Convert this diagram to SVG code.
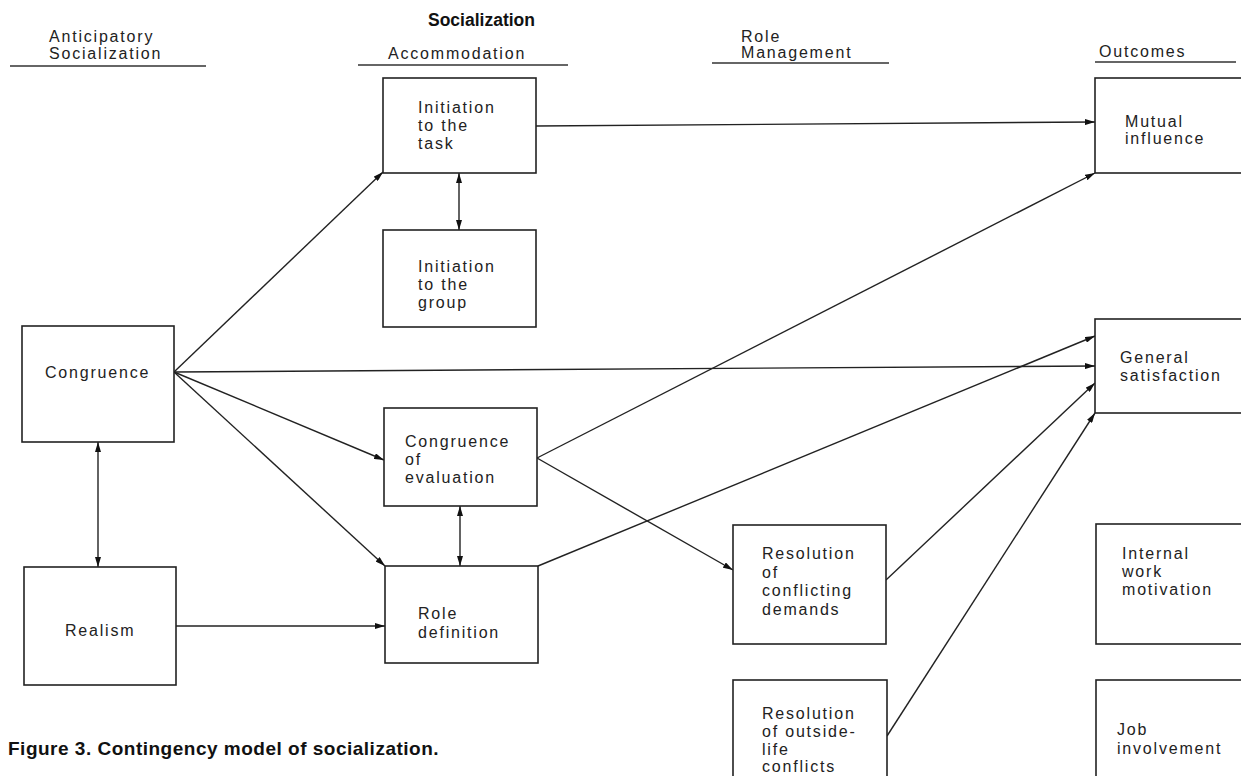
<svg xmlns="http://www.w3.org/2000/svg" width="1241" height="776" viewBox="0 0 1241 776">
<defs>
<marker id="ah" viewBox="0 0 10 6" refX="10" refY="3" markerWidth="10" markerHeight="6" markerUnits="userSpaceOnUse" orient="auto-start-reverse">
<path d="M0,0 L10,3 L0,6 z" fill="#111"/>
</marker>
<style>
.box{fill:#fff;stroke:#222;stroke-width:1.6}
.t{font-family:"Liberation Sans",Arial,sans-serif;font-size:16px;fill:#222;letter-spacing:1.8px}
.h{font-family:"Liberation Sans",Arial,sans-serif;font-size:16px;fill:#222;letter-spacing:1.8px}
.ul{stroke:#333;stroke-width:1.6}
.c{fill:none;stroke:#222;stroke-width:1.4}
.a{marker-end:url(#ah)}
.b{marker-start:url(#ah);marker-end:url(#ah)}
</style>
</defs>
<rect width="1241" height="776" fill="#fff"/>
<g id="headers">
<text x="428" y="26" font-family="Liberation Sans,Arial,sans-serif" font-size="17.5" font-weight="bold" fill="#111">Socialization</text>
<text class="h" x="49" y="42">Anticipatory</text>
<text class="h" x="49" y="59">Socialization</text>
<line class="ul" x1="10" y1="66" x2="206" y2="66"/>
<text class="h" x="388" y="59">Accommodation</text>
<line class="ul" x1="358" y1="65" x2="568" y2="65"/>
<text class="h" x="741" y="42">Role</text>
<text class="h" x="741" y="58">Management</text>
<line class="ul" x1="712" y1="63" x2="889" y2="63"/>
<text class="h" x="1099" y="57">Outcomes</text>
<line class="ul" x1="1095" y1="62" x2="1236" y2="62"/>
</g>
<g id="connectors">
<line class="c a" x1="536" y1="126" x2="1095" y2="122"/>
<line class="c b" x1="459" y1="173" x2="459" y2="230"/>
<line class="c a" x1="174" y1="372" x2="383" y2="172"/>
<line class="c a" x1="174" y1="372" x2="1095" y2="366"/>
<line class="c a" x1="174" y1="372" x2="384" y2="460"/>
<line class="c a" x1="174" y1="372" x2="385" y2="566"/>
<line class="c b" x1="98" y1="442" x2="98" y2="567"/>
<line class="c a" x1="176" y1="626" x2="385" y2="626"/>
<line class="c a" x1="537" y1="458" x2="1095" y2="173"/>
<line class="c a" x1="537" y1="458" x2="733" y2="570"/>
<line class="c b" x1="460" y1="506" x2="460" y2="566"/>
<line class="c a" x1="538" y1="566" x2="1095" y2="336"/>
<line class="c a" x1="886" y1="580" x2="1095" y2="383"/>
<line class="c a" x1="887" y1="736" x2="1095" y2="413"/>
</g>
<g id="task">
<rect class="box" x="383" y="78" width="153" height="95"/>
<text class="t" x="418" y="113">Initiation</text>
<text class="t" x="418" y="131">to the</text>
<text class="t" x="418" y="149">task</text>
</g>
<g id="group">
<rect class="box" x="383" y="230" width="153" height="97"/>
<text class="t" x="418" y="272">Initiation</text>
<text class="t" x="418" y="290">to the</text>
<text class="t" x="418" y="308">group</text>
</g>
<g id="congruence">
<rect class="box" x="22" y="326" width="152" height="116"/>
<text class="t" x="45" y="378">Congruence</text>
</g>
<g id="congruence-evaluation">
<rect class="box" x="384" y="408" width="153" height="98"/>
<text class="t" x="405" y="447">Congruence</text>
<text class="t" x="405" y="465">of</text>
<text class="t" x="405" y="483">evaluation</text>
</g>
<g id="realism">
<rect class="box" x="24" y="567" width="152" height="118"/>
<text class="t" x="65" y="636">Realism</text>
</g>
<g id="role-definition">
<rect class="box" x="385" y="566" width="153" height="97"/>
<text class="t" x="418" y="619">Role</text>
<text class="t" x="418" y="638">definition</text>
</g>
<g id="conflicting-demands">
<rect class="box" x="733" y="525" width="153" height="119"/>
<text class="t" x="762" y="559">Resolution</text>
<text class="t" x="762" y="578">of</text>
<text class="t" x="762" y="596">conflicting</text>
<text class="t" x="762" y="615">demands</text>
</g>
<g id="outside-life">
<rect class="box" x="733" y="680" width="154" height="100"/>
<text class="t" x="762" y="719">Resolution</text>
<text class="t" x="762" y="737">of outside-</text>
<text class="t" x="762" y="755">life</text>
<text class="t" x="762" y="772">conflicts</text>
</g>
<g id="mutual-influence">
<rect class="box" x="1095" y="78" width="160" height="95"/>
<text class="t" x="1125" y="127">Mutual</text>
<text class="t" x="1125" y="144">influence</text>
</g>
<g id="general-satisfaction">
<rect class="box" x="1095" y="319" width="160" height="94"/>
<text class="t" x="1120" y="363">General</text>
<text class="t" x="1120" y="381">satisfaction</text>
</g>
<g id="internal-motivation">
<rect class="box" x="1096" y="524" width="160" height="120"/>
<text class="t" x="1122" y="559">Internal</text>
<text class="t" x="1122" y="577">work</text>
<text class="t" x="1122" y="595">motivation</text>
</g>
<g id="job-involvement">
<rect class="box" x="1096" y="680" width="160" height="100"/>
<text class="t" x="1117" y="735">Job</text>
<text class="t" x="1117" y="754">involvement</text>
</g>
<text x="8" y="755" font-family="Liberation Sans,Arial,sans-serif" font-size="19" font-weight="bold" letter-spacing="0.5" fill="#111">Figure 3. Contingency model of socialization.</text>
</svg>
